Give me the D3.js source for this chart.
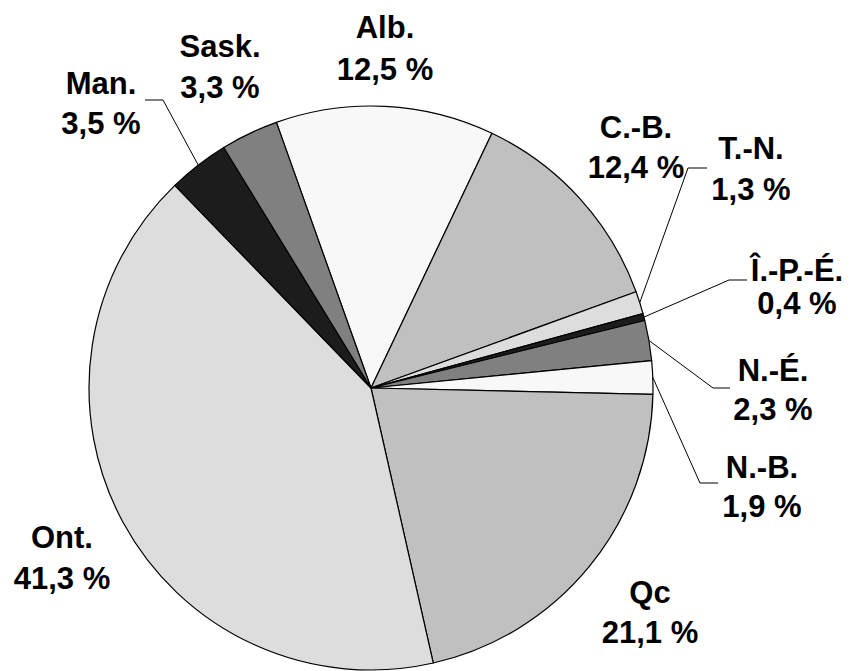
<!DOCTYPE html>
<html>
<head>
<meta charset="utf-8">
<script src="https://cdn.jsdelivr.net/npm/d3@7"></script>
<style>
  body { margin: 0; background: #fff; }
  .lbl { font-family: "Liberation Sans", Arial, sans-serif; font-weight: bold; font-size: 31px; fill: #000; }
</style>
</head>
<body>
<div id="chart"></div>
<script>
// data
var provinces = ["Alb.", "C.-B.", "T.-N.", "Î.-P.-É.", "N.-É.", "N.-B.", "Qc", "Ont.", "Man.", "Sask."];
var shares = [12.5, 12.4, 1.3, 0.4, 2.3, 1.9, 21.1, 41.3, 3.5, 3.3];
var shareLabels = ["12,5 %", "12,4 %", "1,3 %", "0,4 %", "2,3 %", "1,9 %", "21,1 %", "41,3 %", "3,5 %", "3,3 %"];

// svg container
var width = 851, height = 671;
var cx = 371, cy = 388, radius = 282;
var startDeg = -19.6;

var fills = ["#f8f8f8", "#c0c0c0", "#dddddd", "#1c1c1c", "#808080"];

// label layout: center x, first baseline, second baseline, optional leader elbow / end
var layout = {
  "Alb.":     {x: 385, y1: 38,  y2: 80},
  "C.-B.":    {x: 636, y1: 138, y2: 178},
  "T.-N.":    {x: 751, y1: 159, y2: 200, elbow: [688, 168], end: [707, 168]},
  "Î.-P.-É.": {x: 797, y1: 281, y2: 314, elbow: [729, 280], end: [747, 280]},
  "N.-É.":    {x: 773, y1: 381, y2: 420, elbow: [713, 388], end: [730, 388]},
  "N.-B.":    {x: 762, y1: 478, y2: 517, elbow: [700, 483], end: [718, 483]},
  "Qc":       {x: 650, y1: 603, y2: 643},
  "Ont.":     {x: 62,  y1: 548, y2: 589},
  "Man.":     {x: 101, y1: 94,  y2: 134, elbow: [163, 100], end: [145, 100]},
  "Sask.":    {x: 220, y1: 57,  y2: 98}
};

var rows = provinces.map(function (p, i) {
  return {name: p, value: shares[i], text: shareLabels[i], idx: i};
});

var svg = d3.select("#chart").append("svg")
    .attr("width", width)
    .attr("height", height);

var pie = d3.pie()
    .sort(null)
    .value(d => d.value)
    .startAngle(startDeg * Math.PI / 180)
    .endAngle((startDeg + 360) * Math.PI / 180);

var arc = d3.arc().innerRadius(0).outerRadius(radius);

var arcs = pie(rows);

var pieGroup = svg.append("g")
    .attr("transform", `translate(${cx}, ${cy})`);

pieGroup.selectAll("path")
    .data(arcs)
    .enter()
    .append("path")
    .attr("d", arc)
    .attr("fill", d => fills[d.data.idx % fills.length])
    .attr("stroke", "#000")
    .attr("stroke-width", 1.2)
    .attr("stroke-linejoin", "round");

// leader lines for the thin slices
arcs.forEach(function (d) {
  var lay = layout[d.data.name];
  if (!lay.elbow) return;
  var mid = (d.startAngle + d.endAngle) / 2;
  var sx = cx + radius * Math.sin(mid);
  var sy = cy - radius * Math.cos(mid);
  svg.append("polyline")
    .attr("points", [[sx, sy], lay.elbow, lay.end].map(p => p.join(",")).join(" "))
    .attr("fill", "none")
    .attr("stroke", "#000")
    .attr("stroke-width", 1);
});

// labels
arcs.forEach(function (d) {
  var lay = layout[d.data.name];
  var t = svg.append("text")
      .attr("class", "lbl")
      .attr("text-anchor", "middle");
  t.append("tspan").attr("x", lay.x).attr("y", lay.y1).text(d.data.name);
  t.append("tspan").attr("x", lay.x).attr("y", lay.y2).text(d.data.text);
});
</script>
</body>
</html>
